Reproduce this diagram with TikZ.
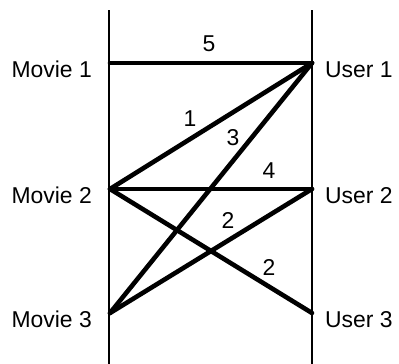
\documentclass[tikz,border=0pt]{standalone}
\usepackage{fontspec}
\setmainfont{Liberation Sans}
\usepackage{tikz}
\usetikzlibrary{positioning}

\tikzset{
  rail/.style={line width=2.7bp},
  rating/.style={line width=4.6bp,line cap=round},
  side/.style={font=\fontsize{23}{27}\selectfont,inner sep=0pt},
  wt/.style={font=\fontsize{23}{27}\selectfont,inner sep=0pt}
}

\begin{document}
\begin{tikzpicture}[x=1bp,y=-1bp]
  \useasboundingbox (0,0) rectangle (399,364);
  % the two rails
  \coordinate (ltop) at (109,10);\coordinate (lbot) at (109,364);
  \coordinate (rtop) at (312,10);\coordinate (rbot) at (312,364);
  \draw[rail](ltop)--(lbot);\draw[rail](rtop)--(rbot);
  % movies and users
  \coordinate (m1) at (110,63);\coordinate (m2) at (110,189);\coordinate (m3) at (110,313);
  \coordinate (u1) at (312,63);\coordinate (u2) at (312,189);\coordinate (u3) at (312,313);
  \node[side,anchor=base east] (mv1) at (92,77){Movie 1};
  \node[side,anchor=base east] (mv2) at (92,203){Movie 2};
  \node[side,anchor=base east] (mv3) at (92,327){Movie 3};
  \node[side,anchor=base west] (us1) at (325,77){User 1};
  \node[side,anchor=base west] (us2) at (325,203){User 2};
  \node[side,anchor=base west] (us3) at (325,327){User 3};
  % ratings
  \draw[rating](m1)--node[wt,above=8.75bp,pos=.49]{5}(u1);
  \draw[rating](m2)--node[wt,above=10.75bp,pos=.396]{1}(u1);
  \draw[rating](m3)--node[wt,above=12.5bp,pos=.609]{3}(u1);
  \draw[rating](m2)--node[wt,above=7.75bp,pos=.787]{4}(u2);
  \draw[rating](m3)--node[wt,above=9.4bp,pos=.584]{2}(u2);
  \draw[rating](m2)--node[wt,above=8.4bp,pos=.787]{2}(u3);
\end{tikzpicture}
\end{document}
